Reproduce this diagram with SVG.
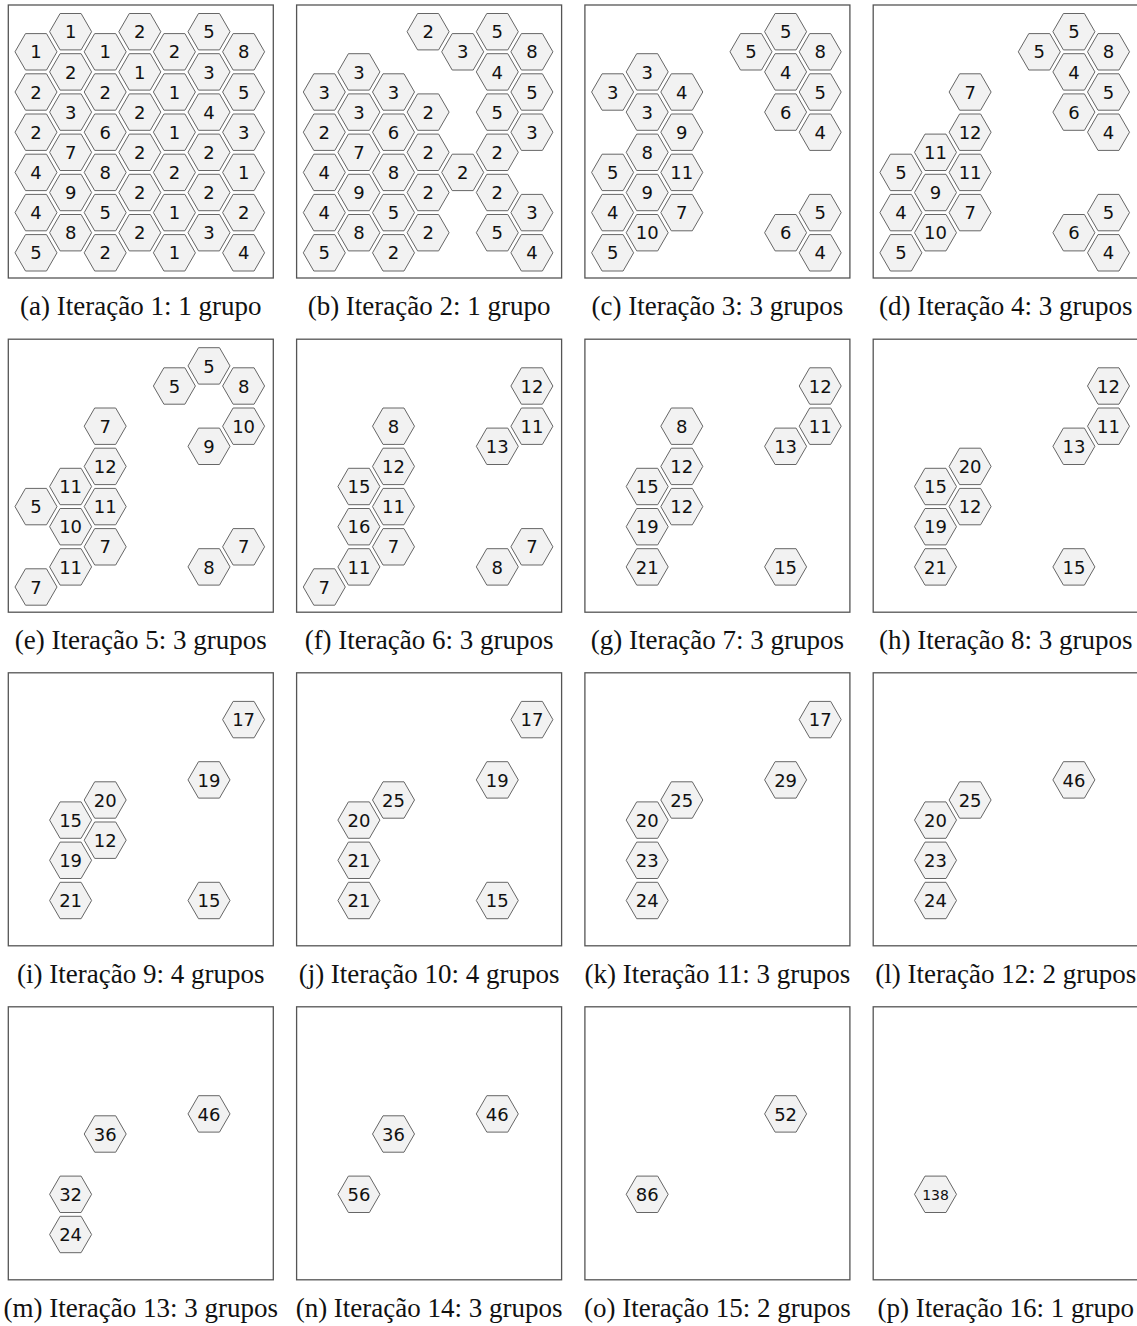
<svg xmlns="http://www.w3.org/2000/svg" xmlns:xlink="http://www.w3.org/1999/xlink" width="1137" height="1326" viewBox="0 0 1137 1326">
<style>
.fr{fill:none;stroke:#555;stroke-width:1.3}
.hx{fill:#f2f2f2;stroke:#666;stroke-width:1}
.n{font-family:"DejaVu Sans",sans-serif;font-size:18px;text-anchor:middle;fill:#111}
.n3{font-size:14px}
.cap{font-family:"Liberation Serif",serif;font-size:27px;text-anchor:middle;fill:#111}
</style>
<defs>
<polygon id="hex" class="hx" points="-21,0 -10.5,-18.2 10.5,-18.2 21,0 10.5,18.2 -10.5,18.2"/>
</defs>
<rect width="1137" height="1326" fill="#fff"/>

<!-- (a) -->
<g id="panel-a" transform="translate(8.3,5)">
<rect class="fr" width="265" height="273"/>
<g id="a_c0h1" transform="translate(27.7,46.8)"><use href="#hex"/><text class="n" y="6.6">1</text></g>
<g id="a_c0h3" transform="translate(27.7,87)"><use href="#hex"/><text class="n" y="6.6">2</text></g>
<g id="a_c0h5" transform="translate(27.7,127.2)"><use href="#hex"/><text class="n" y="6.6">2</text></g>
<g id="a_c0h7" transform="translate(27.7,167.4)"><use href="#hex"/><text class="n" y="6.6">4</text></g>
<g id="a_c0h9" transform="translate(27.7,207.6)"><use href="#hex"/><text class="n" y="6.6">4</text></g>
<g id="a_c0h11" transform="translate(27.7,247.8)"><use href="#hex"/><text class="n" y="6.6">5</text></g>
<g id="a_c1h0" transform="translate(62.3,26.7)"><use href="#hex"/><text class="n" y="6.6">1</text></g>
<g id="a_c1h2" transform="translate(62.3,66.9)"><use href="#hex"/><text class="n" y="6.6">2</text></g>
<g id="a_c1h4" transform="translate(62.3,107.1)"><use href="#hex"/><text class="n" y="6.6">3</text></g>
<g id="a_c1h6" transform="translate(62.3,147.3)"><use href="#hex"/><text class="n" y="6.6">7</text></g>
<g id="a_c1h8" transform="translate(62.3,187.5)"><use href="#hex"/><text class="n" y="6.6">9</text></g>
<g id="a_c1h10" transform="translate(62.3,227.7)"><use href="#hex"/><text class="n" y="6.6">8</text></g>
<g id="a_c2h1" transform="translate(96.9,46.8)"><use href="#hex"/><text class="n" y="6.6">1</text></g>
<g id="a_c2h3" transform="translate(96.9,87)"><use href="#hex"/><text class="n" y="6.6">2</text></g>
<g id="a_c2h5" transform="translate(96.9,127.2)"><use href="#hex"/><text class="n" y="6.6">6</text></g>
<g id="a_c2h7" transform="translate(96.9,167.4)"><use href="#hex"/><text class="n" y="6.6">8</text></g>
<g id="a_c2h9" transform="translate(96.9,207.6)"><use href="#hex"/><text class="n" y="6.6">5</text></g>
<g id="a_c2h11" transform="translate(96.9,247.8)"><use href="#hex"/><text class="n" y="6.6">2</text></g>
<g id="a_c3h0" transform="translate(131.5,26.7)"><use href="#hex"/><text class="n" y="6.6">2</text></g>
<g id="a_c3h2" transform="translate(131.5,66.9)"><use href="#hex"/><text class="n" y="6.6">1</text></g>
<g id="a_c3h4" transform="translate(131.5,107.1)"><use href="#hex"/><text class="n" y="6.6">2</text></g>
<g id="a_c3h6" transform="translate(131.5,147.3)"><use href="#hex"/><text class="n" y="6.6">2</text></g>
<g id="a_c3h8" transform="translate(131.5,187.5)"><use href="#hex"/><text class="n" y="6.6">2</text></g>
<g id="a_c3h10" transform="translate(131.5,227.7)"><use href="#hex"/><text class="n" y="6.6">2</text></g>
<g id="a_c4h1" transform="translate(166.1,46.8)"><use href="#hex"/><text class="n" y="6.6">2</text></g>
<g id="a_c4h3" transform="translate(166.1,87)"><use href="#hex"/><text class="n" y="6.6">1</text></g>
<g id="a_c4h5" transform="translate(166.1,127.2)"><use href="#hex"/><text class="n" y="6.6">1</text></g>
<g id="a_c4h7" transform="translate(166.1,167.4)"><use href="#hex"/><text class="n" y="6.6">2</text></g>
<g id="a_c4h9" transform="translate(166.1,207.6)"><use href="#hex"/><text class="n" y="6.6">1</text></g>
<g id="a_c4h11" transform="translate(166.1,247.8)"><use href="#hex"/><text class="n" y="6.6">1</text></g>
<g id="a_c5h0" transform="translate(200.7,26.7)"><use href="#hex"/><text class="n" y="6.6">5</text></g>
<g id="a_c5h2" transform="translate(200.7,66.9)"><use href="#hex"/><text class="n" y="6.6">3</text></g>
<g id="a_c5h4" transform="translate(200.7,107.1)"><use href="#hex"/><text class="n" y="6.6">4</text></g>
<g id="a_c5h6" transform="translate(200.7,147.3)"><use href="#hex"/><text class="n" y="6.6">2</text></g>
<g id="a_c5h8" transform="translate(200.7,187.5)"><use href="#hex"/><text class="n" y="6.6">2</text></g>
<g id="a_c5h10" transform="translate(200.7,227.7)"><use href="#hex"/><text class="n" y="6.6">3</text></g>
<g id="a_c6h1" transform="translate(235.3,46.8)"><use href="#hex"/><text class="n" y="6.6">8</text></g>
<g id="a_c6h3" transform="translate(235.3,87)"><use href="#hex"/><text class="n" y="6.6">5</text></g>
<g id="a_c6h5" transform="translate(235.3,127.2)"><use href="#hex"/><text class="n" y="6.6">3</text></g>
<g id="a_c6h7" transform="translate(235.3,167.4)"><use href="#hex"/><text class="n" y="6.6">1</text></g>
<g id="a_c6h9" transform="translate(235.3,207.6)"><use href="#hex"/><text class="n" y="6.6">2</text></g>
<g id="a_c6h11" transform="translate(235.3,247.8)"><use href="#hex"/><text class="n" y="6.6">4</text></g>
</g>

<!-- (b) -->
<g id="panel-b" transform="translate(296.6,5)">
<rect class="fr" width="265" height="273"/>
<g id="b_c0h3" transform="translate(27.7,87)"><use href="#hex"/><text class="n" y="6.6">3</text></g>
<g id="b_c0h5" transform="translate(27.7,127.2)"><use href="#hex"/><text class="n" y="6.6">2</text></g>
<g id="b_c0h7" transform="translate(27.7,167.4)"><use href="#hex"/><text class="n" y="6.6">4</text></g>
<g id="b_c0h9" transform="translate(27.7,207.6)"><use href="#hex"/><text class="n" y="6.6">4</text></g>
<g id="b_c0h11" transform="translate(27.7,247.8)"><use href="#hex"/><text class="n" y="6.6">5</text></g>
<g id="b_c1h2" transform="translate(62.3,66.9)"><use href="#hex"/><text class="n" y="6.6">3</text></g>
<g id="b_c1h4" transform="translate(62.3,107.1)"><use href="#hex"/><text class="n" y="6.6">3</text></g>
<g id="b_c1h6" transform="translate(62.3,147.3)"><use href="#hex"/><text class="n" y="6.6">7</text></g>
<g id="b_c1h8" transform="translate(62.3,187.5)"><use href="#hex"/><text class="n" y="6.6">9</text></g>
<g id="b_c1h10" transform="translate(62.3,227.7)"><use href="#hex"/><text class="n" y="6.6">8</text></g>
<g id="b_c2h3" transform="translate(96.9,87)"><use href="#hex"/><text class="n" y="6.6">3</text></g>
<g id="b_c2h5" transform="translate(96.9,127.2)"><use href="#hex"/><text class="n" y="6.6">6</text></g>
<g id="b_c2h7" transform="translate(96.9,167.4)"><use href="#hex"/><text class="n" y="6.6">8</text></g>
<g id="b_c2h9" transform="translate(96.9,207.6)"><use href="#hex"/><text class="n" y="6.6">5</text></g>
<g id="b_c2h11" transform="translate(96.9,247.8)"><use href="#hex"/><text class="n" y="6.6">2</text></g>
<g id="b_c3h0" transform="translate(131.5,26.7)"><use href="#hex"/><text class="n" y="6.6">2</text></g>
<g id="b_c3h4" transform="translate(131.5,107.1)"><use href="#hex"/><text class="n" y="6.6">2</text></g>
<g id="b_c3h6" transform="translate(131.5,147.3)"><use href="#hex"/><text class="n" y="6.6">2</text></g>
<g id="b_c3h8" transform="translate(131.5,187.5)"><use href="#hex"/><text class="n" y="6.6">2</text></g>
<g id="b_c3h10" transform="translate(131.5,227.7)"><use href="#hex"/><text class="n" y="6.6">2</text></g>
<g id="b_c4h1" transform="translate(166.1,46.8)"><use href="#hex"/><text class="n" y="6.6">3</text></g>
<g id="b_c4h7" transform="translate(166.1,167.4)"><use href="#hex"/><text class="n" y="6.6">2</text></g>
<g id="b_c5h0" transform="translate(200.7,26.7)"><use href="#hex"/><text class="n" y="6.6">5</text></g>
<g id="b_c5h2" transform="translate(200.7,66.9)"><use href="#hex"/><text class="n" y="6.6">4</text></g>
<g id="b_c5h4" transform="translate(200.7,107.1)"><use href="#hex"/><text class="n" y="6.6">5</text></g>
<g id="b_c5h6" transform="translate(200.7,147.3)"><use href="#hex"/><text class="n" y="6.6">2</text></g>
<g id="b_c5h8" transform="translate(200.7,187.5)"><use href="#hex"/><text class="n" y="6.6">2</text></g>
<g id="b_c5h10" transform="translate(200.7,227.7)"><use href="#hex"/><text class="n" y="6.6">5</text></g>
<g id="b_c6h1" transform="translate(235.3,46.8)"><use href="#hex"/><text class="n" y="6.6">8</text></g>
<g id="b_c6h3" transform="translate(235.3,87)"><use href="#hex"/><text class="n" y="6.6">5</text></g>
<g id="b_c6h5" transform="translate(235.3,127.2)"><use href="#hex"/><text class="n" y="6.6">3</text></g>
<g id="b_c6h9" transform="translate(235.3,207.6)"><use href="#hex"/><text class="n" y="6.6">3</text></g>
<g id="b_c6h11" transform="translate(235.3,247.8)"><use href="#hex"/><text class="n" y="6.6">4</text></g>
</g>

<!-- (c) -->
<g id="panel-c" transform="translate(584.9,5)">
<rect class="fr" width="265" height="273"/>
<g id="c_c0h3" transform="translate(27.7,87)"><use href="#hex"/><text class="n" y="6.6">3</text></g>
<g id="c_c0h7" transform="translate(27.7,167.4)"><use href="#hex"/><text class="n" y="6.6">5</text></g>
<g id="c_c0h9" transform="translate(27.7,207.6)"><use href="#hex"/><text class="n" y="6.6">4</text></g>
<g id="c_c0h11" transform="translate(27.7,247.8)"><use href="#hex"/><text class="n" y="6.6">5</text></g>
<g id="c_c1h2" transform="translate(62.3,66.9)"><use href="#hex"/><text class="n" y="6.6">3</text></g>
<g id="c_c1h4" transform="translate(62.3,107.1)"><use href="#hex"/><text class="n" y="6.6">3</text></g>
<g id="c_c1h6" transform="translate(62.3,147.3)"><use href="#hex"/><text class="n" y="6.6">8</text></g>
<g id="c_c1h8" transform="translate(62.3,187.5)"><use href="#hex"/><text class="n" y="6.6">9</text></g>
<g id="c_c1h10" transform="translate(62.3,227.7)"><use href="#hex"/><text class="n" y="6.6">10</text></g>
<g id="c_c2h3" transform="translate(96.9,87)"><use href="#hex"/><text class="n" y="6.6">4</text></g>
<g id="c_c2h5" transform="translate(96.9,127.2)"><use href="#hex"/><text class="n" y="6.6">9</text></g>
<g id="c_c2h7" transform="translate(96.9,167.4)"><use href="#hex"/><text class="n" y="6.6">11</text></g>
<g id="c_c2h9" transform="translate(96.9,207.6)"><use href="#hex"/><text class="n" y="6.6">7</text></g>
<g id="c_c4h1" transform="translate(166.1,46.8)"><use href="#hex"/><text class="n" y="6.6">5</text></g>
<g id="c_c5h0" transform="translate(200.7,26.7)"><use href="#hex"/><text class="n" y="6.6">5</text></g>
<g id="c_c5h2" transform="translate(200.7,66.9)"><use href="#hex"/><text class="n" y="6.6">4</text></g>
<g id="c_c5h4" transform="translate(200.7,107.1)"><use href="#hex"/><text class="n" y="6.6">6</text></g>
<g id="c_c5h10" transform="translate(200.7,227.7)"><use href="#hex"/><text class="n" y="6.6">6</text></g>
<g id="c_c6h1" transform="translate(235.3,46.8)"><use href="#hex"/><text class="n" y="6.6">8</text></g>
<g id="c_c6h3" transform="translate(235.3,87)"><use href="#hex"/><text class="n" y="6.6">5</text></g>
<g id="c_c6h5" transform="translate(235.3,127.2)"><use href="#hex"/><text class="n" y="6.6">4</text></g>
<g id="c_c6h9" transform="translate(235.3,207.6)"><use href="#hex"/><text class="n" y="6.6">5</text></g>
<g id="c_c6h11" transform="translate(235.3,247.8)"><use href="#hex"/><text class="n" y="6.6">4</text></g>
</g>

<!-- (d) -->
<g id="panel-d" transform="translate(873.2,5)">
<rect class="fr" width="265" height="273"/>
<g id="d_c0h7" transform="translate(27.7,167.4)"><use href="#hex"/><text class="n" y="6.6">5</text></g>
<g id="d_c0h9" transform="translate(27.7,207.6)"><use href="#hex"/><text class="n" y="6.6">4</text></g>
<g id="d_c0h11" transform="translate(27.7,247.8)"><use href="#hex"/><text class="n" y="6.6">5</text></g>
<g id="d_c1h6" transform="translate(62.3,147.3)"><use href="#hex"/><text class="n" y="6.6">11</text></g>
<g id="d_c1h8" transform="translate(62.3,187.5)"><use href="#hex"/><text class="n" y="6.6">9</text></g>
<g id="d_c1h10" transform="translate(62.3,227.7)"><use href="#hex"/><text class="n" y="6.6">10</text></g>
<g id="d_c2h3" transform="translate(96.9,87)"><use href="#hex"/><text class="n" y="6.6">7</text></g>
<g id="d_c2h5" transform="translate(96.9,127.2)"><use href="#hex"/><text class="n" y="6.6">12</text></g>
<g id="d_c2h7" transform="translate(96.9,167.4)"><use href="#hex"/><text class="n" y="6.6">11</text></g>
<g id="d_c2h9" transform="translate(96.9,207.6)"><use href="#hex"/><text class="n" y="6.6">7</text></g>
<g id="d_c4h1" transform="translate(166.1,46.8)"><use href="#hex"/><text class="n" y="6.6">5</text></g>
<g id="d_c5h0" transform="translate(200.7,26.7)"><use href="#hex"/><text class="n" y="6.6">5</text></g>
<g id="d_c5h2" transform="translate(200.7,66.9)"><use href="#hex"/><text class="n" y="6.6">4</text></g>
<g id="d_c5h4" transform="translate(200.7,107.1)"><use href="#hex"/><text class="n" y="6.6">6</text></g>
<g id="d_c5h10" transform="translate(200.7,227.7)"><use href="#hex"/><text class="n" y="6.6">6</text></g>
<g id="d_c6h1" transform="translate(235.3,46.8)"><use href="#hex"/><text class="n" y="6.6">8</text></g>
<g id="d_c6h3" transform="translate(235.3,87)"><use href="#hex"/><text class="n" y="6.6">5</text></g>
<g id="d_c6h5" transform="translate(235.3,127.2)"><use href="#hex"/><text class="n" y="6.6">4</text></g>
<g id="d_c6h9" transform="translate(235.3,207.6)"><use href="#hex"/><text class="n" y="6.6">5</text></g>
<g id="d_c6h11" transform="translate(235.3,247.8)"><use href="#hex"/><text class="n" y="6.6">4</text></g>
</g>

<!-- (e) -->
<g id="panel-e" transform="translate(8.3,339.2)">
<rect class="fr" width="265" height="273"/>
<g id="e_c0h7" transform="translate(27.7,167.4)"><use href="#hex"/><text class="n" y="6.6">5</text></g>
<g id="e_c0h11" transform="translate(27.7,247.8)"><use href="#hex"/><text class="n" y="6.6">7</text></g>
<g id="e_c1h6" transform="translate(62.3,147.3)"><use href="#hex"/><text class="n" y="6.6">11</text></g>
<g id="e_c1h8" transform="translate(62.3,187.5)"><use href="#hex"/><text class="n" y="6.6">10</text></g>
<g id="e_c1h10" transform="translate(62.3,227.7)"><use href="#hex"/><text class="n" y="6.6">11</text></g>
<g id="e_c2h3" transform="translate(96.9,87)"><use href="#hex"/><text class="n" y="6.6">7</text></g>
<g id="e_c2h5" transform="translate(96.9,127.2)"><use href="#hex"/><text class="n" y="6.6">12</text></g>
<g id="e_c2h7" transform="translate(96.9,167.4)"><use href="#hex"/><text class="n" y="6.6">11</text></g>
<g id="e_c2h9" transform="translate(96.9,207.6)"><use href="#hex"/><text class="n" y="6.6">7</text></g>
<g id="e_c4h1" transform="translate(166.1,46.8)"><use href="#hex"/><text class="n" y="6.6">5</text></g>
<g id="e_c5h0" transform="translate(200.7,26.7)"><use href="#hex"/><text class="n" y="6.6">5</text></g>
<g id="e_c5h4" transform="translate(200.7,107.1)"><use href="#hex"/><text class="n" y="6.6">9</text></g>
<g id="e_c5h10" transform="translate(200.7,227.7)"><use href="#hex"/><text class="n" y="6.6">8</text></g>
<g id="e_c6h1" transform="translate(235.3,46.8)"><use href="#hex"/><text class="n" y="6.6">8</text></g>
<g id="e_c6h3" transform="translate(235.3,87)"><use href="#hex"/><text class="n" y="6.6">10</text></g>
<g id="e_c6h9" transform="translate(235.3,207.6)"><use href="#hex"/><text class="n" y="6.6">7</text></g>
</g>

<!-- (f) -->
<g id="panel-f" transform="translate(296.6,339.2)">
<rect class="fr" width="265" height="273"/>
<g id="f_c0h11" transform="translate(27.7,247.8)"><use href="#hex"/><text class="n" y="6.6">7</text></g>
<g id="f_c1h6" transform="translate(62.3,147.3)"><use href="#hex"/><text class="n" y="6.6">15</text></g>
<g id="f_c1h8" transform="translate(62.3,187.5)"><use href="#hex"/><text class="n" y="6.6">16</text></g>
<g id="f_c1h10" transform="translate(62.3,227.7)"><use href="#hex"/><text class="n" y="6.6">11</text></g>
<g id="f_c2h3" transform="translate(96.9,87)"><use href="#hex"/><text class="n" y="6.6">8</text></g>
<g id="f_c2h5" transform="translate(96.9,127.2)"><use href="#hex"/><text class="n" y="6.6">12</text></g>
<g id="f_c2h7" transform="translate(96.9,167.4)"><use href="#hex"/><text class="n" y="6.6">11</text></g>
<g id="f_c2h9" transform="translate(96.9,207.6)"><use href="#hex"/><text class="n" y="6.6">7</text></g>
<g id="f_c5h4" transform="translate(200.7,107.1)"><use href="#hex"/><text class="n" y="6.6">13</text></g>
<g id="f_c5h10" transform="translate(200.7,227.7)"><use href="#hex"/><text class="n" y="6.6">8</text></g>
<g id="f_c6h1" transform="translate(235.3,46.8)"><use href="#hex"/><text class="n" y="6.6">12</text></g>
<g id="f_c6h3" transform="translate(235.3,87)"><use href="#hex"/><text class="n" y="6.6">11</text></g>
<g id="f_c6h9" transform="translate(235.3,207.6)"><use href="#hex"/><text class="n" y="6.6">7</text></g>
</g>

<!-- (g) -->
<g id="panel-g" transform="translate(584.9,339.2)">
<rect class="fr" width="265" height="273"/>
<g id="g_c1h6" transform="translate(62.3,147.3)"><use href="#hex"/><text class="n" y="6.6">15</text></g>
<g id="g_c1h8" transform="translate(62.3,187.5)"><use href="#hex"/><text class="n" y="6.6">19</text></g>
<g id="g_c1h10" transform="translate(62.3,227.7)"><use href="#hex"/><text class="n" y="6.6">21</text></g>
<g id="g_c2h3" transform="translate(96.9,87)"><use href="#hex"/><text class="n" y="6.6">8</text></g>
<g id="g_c2h5" transform="translate(96.9,127.2)"><use href="#hex"/><text class="n" y="6.6">12</text></g>
<g id="g_c2h7" transform="translate(96.9,167.4)"><use href="#hex"/><text class="n" y="6.6">12</text></g>
<g id="g_c5h4" transform="translate(200.7,107.1)"><use href="#hex"/><text class="n" y="6.6">13</text></g>
<g id="g_c5h10" transform="translate(200.7,227.7)"><use href="#hex"/><text class="n" y="6.6">15</text></g>
<g id="g_c6h1" transform="translate(235.3,46.8)"><use href="#hex"/><text class="n" y="6.6">12</text></g>
<g id="g_c6h3" transform="translate(235.3,87)"><use href="#hex"/><text class="n" y="6.6">11</text></g>
</g>

<!-- (h) -->
<g id="panel-h" transform="translate(873.2,339.2)">
<rect class="fr" width="265" height="273"/>
<g id="h_c1h6" transform="translate(62.3,147.3)"><use href="#hex"/><text class="n" y="6.6">15</text></g>
<g id="h_c1h8" transform="translate(62.3,187.5)"><use href="#hex"/><text class="n" y="6.6">19</text></g>
<g id="h_c1h10" transform="translate(62.3,227.7)"><use href="#hex"/><text class="n" y="6.6">21</text></g>
<g id="h_c2h5" transform="translate(96.9,127.2)"><use href="#hex"/><text class="n" y="6.6">20</text></g>
<g id="h_c2h7" transform="translate(96.9,167.4)"><use href="#hex"/><text class="n" y="6.6">12</text></g>
<g id="h_c5h4" transform="translate(200.7,107.1)"><use href="#hex"/><text class="n" y="6.6">13</text></g>
<g id="h_c5h10" transform="translate(200.7,227.7)"><use href="#hex"/><text class="n" y="6.6">15</text></g>
<g id="h_c6h1" transform="translate(235.3,46.8)"><use href="#hex"/><text class="n" y="6.6">12</text></g>
<g id="h_c6h3" transform="translate(235.3,87)"><use href="#hex"/><text class="n" y="6.6">11</text></g>
</g>

<!-- (i) -->
<g id="panel-i" transform="translate(8.3,672.8)">
<rect class="fr" width="265" height="273"/>
<g id="i_c1h6" transform="translate(62.3,147.3)"><use href="#hex"/><text class="n" y="6.6">15</text></g>
<g id="i_c1h8" transform="translate(62.3,187.5)"><use href="#hex"/><text class="n" y="6.6">19</text></g>
<g id="i_c1h10" transform="translate(62.3,227.7)"><use href="#hex"/><text class="n" y="6.6">21</text></g>
<g id="i_c2h5" transform="translate(96.9,127.2)"><use href="#hex"/><text class="n" y="6.6">20</text></g>
<g id="i_c2h7" transform="translate(96.9,167.4)"><use href="#hex"/><text class="n" y="6.6">12</text></g>
<g id="i_c5h4" transform="translate(200.7,107.1)"><use href="#hex"/><text class="n" y="6.6">19</text></g>
<g id="i_c5h10" transform="translate(200.7,227.7)"><use href="#hex"/><text class="n" y="6.6">15</text></g>
<g id="i_c6h1" transform="translate(235.3,46.8)"><use href="#hex"/><text class="n" y="6.6">17</text></g>
</g>

<!-- (j) -->
<g id="panel-j" transform="translate(296.6,672.8)">
<rect class="fr" width="265" height="273"/>
<g id="j_c1h6" transform="translate(62.3,147.3)"><use href="#hex"/><text class="n" y="6.6">20</text></g>
<g id="j_c1h8" transform="translate(62.3,187.5)"><use href="#hex"/><text class="n" y="6.6">21</text></g>
<g id="j_c1h10" transform="translate(62.3,227.7)"><use href="#hex"/><text class="n" y="6.6">21</text></g>
<g id="j_c2h5" transform="translate(96.9,127.2)"><use href="#hex"/><text class="n" y="6.6">25</text></g>
<g id="j_c5h4" transform="translate(200.7,107.1)"><use href="#hex"/><text class="n" y="6.6">19</text></g>
<g id="j_c5h10" transform="translate(200.7,227.7)"><use href="#hex"/><text class="n" y="6.6">15</text></g>
<g id="j_c6h1" transform="translate(235.3,46.8)"><use href="#hex"/><text class="n" y="6.6">17</text></g>
</g>

<!-- (k) -->
<g id="panel-k" transform="translate(584.9,672.8)">
<rect class="fr" width="265" height="273"/>
<g id="k_c1h6" transform="translate(62.3,147.3)"><use href="#hex"/><text class="n" y="6.6">20</text></g>
<g id="k_c1h8" transform="translate(62.3,187.5)"><use href="#hex"/><text class="n" y="6.6">23</text></g>
<g id="k_c1h10" transform="translate(62.3,227.7)"><use href="#hex"/><text class="n" y="6.6">24</text></g>
<g id="k_c2h5" transform="translate(96.9,127.2)"><use href="#hex"/><text class="n" y="6.6">25</text></g>
<g id="k_c5h4" transform="translate(200.7,107.1)"><use href="#hex"/><text class="n" y="6.6">29</text></g>
<g id="k_c6h1" transform="translate(235.3,46.8)"><use href="#hex"/><text class="n" y="6.6">17</text></g>
</g>

<!-- (l) -->
<g id="panel-l" transform="translate(873.2,672.8)">
<rect class="fr" width="265" height="273"/>
<g id="l_c1h6" transform="translate(62.3,147.3)"><use href="#hex"/><text class="n" y="6.6">20</text></g>
<g id="l_c1h8" transform="translate(62.3,187.5)"><use href="#hex"/><text class="n" y="6.6">23</text></g>
<g id="l_c1h10" transform="translate(62.3,227.7)"><use href="#hex"/><text class="n" y="6.6">24</text></g>
<g id="l_c2h5" transform="translate(96.9,127.2)"><use href="#hex"/><text class="n" y="6.6">25</text></g>
<g id="l_c5h4" transform="translate(200.7,107.1)"><use href="#hex"/><text class="n" y="6.6">46</text></g>
</g>

<!-- (m) -->
<g id="panel-m" transform="translate(8.3,1006.8)">
<rect class="fr" width="265" height="273"/>
<g id="m_c1h8" transform="translate(62.3,187.5)"><use href="#hex"/><text class="n" y="6.6">32</text></g>
<g id="m_c1h10" transform="translate(62.3,227.7)"><use href="#hex"/><text class="n" y="6.6">24</text></g>
<g id="m_c2h5" transform="translate(96.9,127.2)"><use href="#hex"/><text class="n" y="6.6">36</text></g>
<g id="m_c5h4" transform="translate(200.7,107.1)"><use href="#hex"/><text class="n" y="6.6">46</text></g>
</g>

<!-- (n) -->
<g id="panel-n" transform="translate(296.6,1006.8)">
<rect class="fr" width="265" height="273"/>
<g id="n_c1h8" transform="translate(62.3,187.5)"><use href="#hex"/><text class="n" y="6.6">56</text></g>
<g id="n_c2h5" transform="translate(96.9,127.2)"><use href="#hex"/><text class="n" y="6.6">36</text></g>
<g id="n_c5h4" transform="translate(200.7,107.1)"><use href="#hex"/><text class="n" y="6.6">46</text></g>
</g>

<!-- (o) -->
<g id="panel-o" transform="translate(584.9,1006.8)">
<rect class="fr" width="265" height="273"/>
<g id="o_c1h8" transform="translate(62.3,187.5)"><use href="#hex"/><text class="n" y="6.6">86</text></g>
<g id="o_c5h4" transform="translate(200.7,107.1)"><use href="#hex"/><text class="n" y="6.6">52</text></g>
</g>

<!-- (p) -->
<g id="panel-p" transform="translate(873.2,1006.8)">
<rect class="fr" width="265" height="273"/>
<g id="p_c1h8" transform="translate(62.3,187.5)"><use href="#hex"/><text class="n n3" y="5.2">138</text></g>
</g>

<g id="connectors"/>

<g id="captions">
<text class="cap" x="140.8" y="315">(a) Iteração 1: 1 grupo</text>
<text class="cap" x="429.1" y="315">(b) Iteração 2: 1 grupo</text>
<text class="cap" x="717.4" y="315">(c) Iteração 3: 3 grupos</text>
<text class="cap" x="1005.7" y="315">(d) Iteração 4: 3 grupos</text>
<text class="cap" x="140.8" y="649">(e) Iteração 5: 3 grupos</text>
<text class="cap" x="429.1" y="649">(f) Iteração 6: 3 grupos</text>
<text class="cap" x="717.4" y="649">(g) Iteração 7: 3 grupos</text>
<text class="cap" x="1005.7" y="649">(h) Iteração 8: 3 grupos</text>
<text class="cap" x="140.8" y="983">(i) Iteração 9: 4 grupos</text>
<text class="cap" x="429.1" y="983">(j) Iteração 10: 4 grupos</text>
<text class="cap" x="717.4" y="983">(k) Iteração 11: 3 grupos</text>
<text class="cap" x="1005.7" y="983">(l) Iteração 12: 2 grupos</text>
<text class="cap" x="140.8" y="1317">(m) Iteração 13: 3 grupos</text>
<text class="cap" x="429.1" y="1317">(n) Iteração 14: 3 grupos</text>
<text class="cap" x="717.4" y="1317">(o) Iteração 15: 2 grupos</text>
<text class="cap" x="1005.7" y="1317">(p) Iteração 16: 1 grupo</text>
</g>
</svg>
